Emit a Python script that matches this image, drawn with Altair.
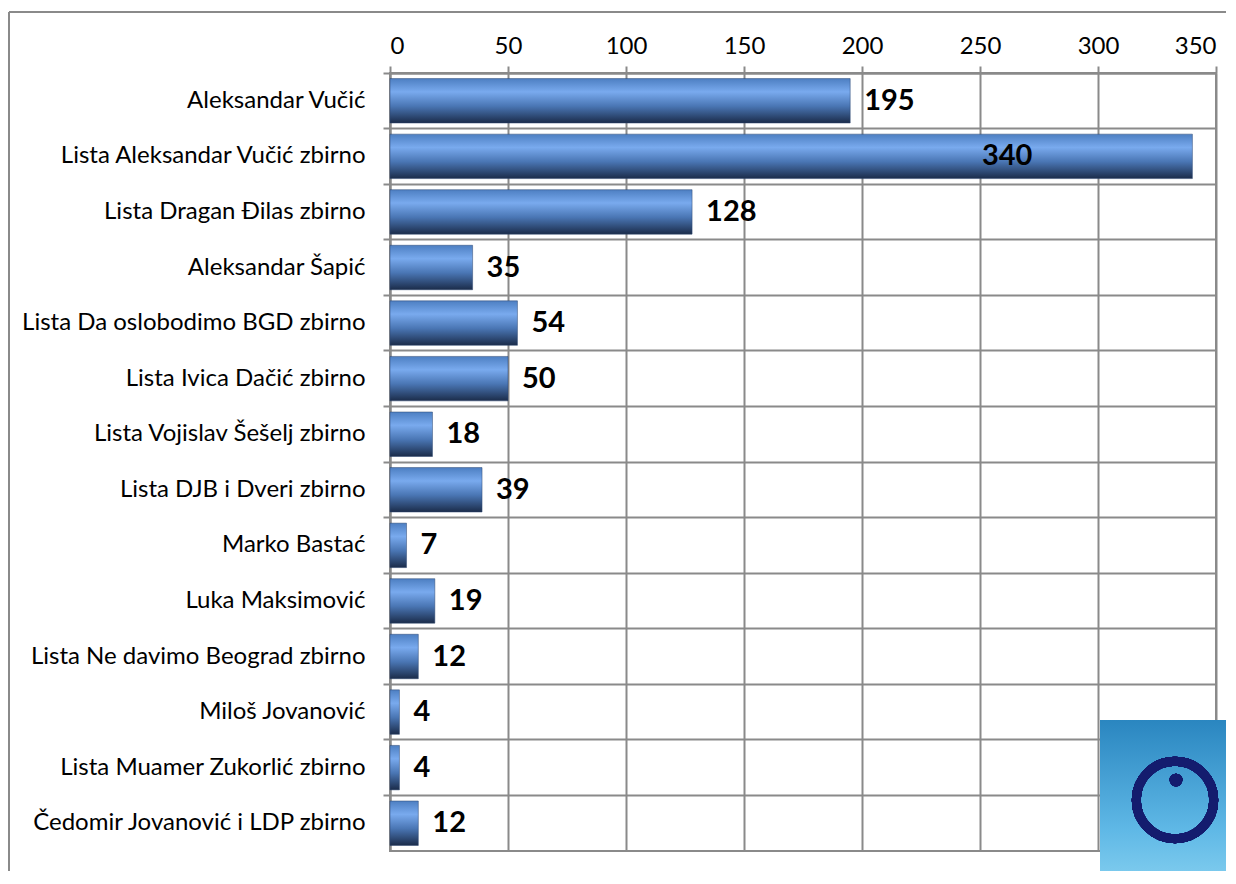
import altair as alt
import pandas as pd

names = [
    "Aleksandar Vučić",
    "Lista Aleksandar Vučić zbirno",
    "Lista Dragan Đilas zbirno",
    "Aleksandar Šapić",
    "Lista Da oslobodimo BGD zbirno",
    "Lista Ivica Dačić zbirno",
    "Lista Vojislav Šešelj zbirno",
    "Lista DJB i Dveri zbirno",
    "Marko Bastać",
    "Luka Maksimović",
    "Lista Ne davimo Beograd zbirno",
    "Miloš Jovanović",
    "Lista Muamer Zukorlić zbirno",
    "Čedomir Jovanović i LDP zbirno",
]
values = [195, 340, 128, 35, 54, 50, 18, 39, 7, 19, 12, 4, 4, 12]
x_ticks = [0, 50, 100, 150, 200, 250, 300, 350]

df = pd.DataFrame({"name": names, "value": values})

GRID = "#8a8a8a"
FONT = "Lato"

bar_grad = alt.Gradient(
    gradient="linear",
    stops=[
        alt.GradientStop(color="#4d7fc2", offset=0),
        alt.GradientStop(color="#79aaee", offset=0.3),
        alt.GradientStop(color="#4a76b4", offset=0.62),
        alt.GradientStop(color="#1b2c4a", offset=1),
    ],
    x1=0, x2=0, y1=0, y2=1,
)

logo_grad = alt.Gradient(
    gradient="linear",
    stops=[
        alt.GradientStop(color="#2a86c0", offset=0),
        alt.GradientStop(color="#5fb8e6", offset=0.6),
        alt.GradientStop(color="#8fd6f2", offset=1),
    ],
    x1=0, x2=0, y1=0, y2=1,
)

x_enc = alt.X(
    "value:Q",
    scale=alt.Scale(domain=[0, 350]),
    axis=alt.Axis(
        orient="top", values=x_ticks, title=None, grid=True,
        gridColor=GRID, gridWidth=2, tickColor=GRID, tickWidth=2, tickSize=7,
        domainColor=GRID, domainWidth=2, labelFont=FONT, labelFontSize=24,
        labelColor="black", labelPadding=8,
    ),
)
y_enc = alt.Y(
    "name:N",
    sort=names,
    scale=alt.Scale(paddingInner=0, paddingOuter=0),
    axis=alt.Axis(
        title=None, grid=True, bandPosition=0,
        gridColor=GRID, gridWidth=2, tickColor=GRID, tickWidth=2, tickSize=7,
        domainColor=GRID, domainWidth=2, labelFont=FONT, labelFontSize=24,
        labelColor="black", labelPadding=18, labelLimit=400,
    ),
)

base = alt.Chart(df).encode(x=x_enc, y=y_enc)

bars = base.mark_bar(height=alt.RelativeBandSize(0.8), fill=bar_grad,
                     stroke="#2c4670", strokeWidth=0.5)

labels_out = base.transform_filter("datum.value <= 300").mark_text(
    align="left", dx=14, font=FONT, fontSize=29, fontWeight="bold", color="black"
).encode(text="value:Q")

labels_in = base.transform_filter("datum.value > 300").mark_text(
    align="right", dx=-160, font=FONT, fontSize=29, fontWeight="bold", color="black"
).encode(text="value:Q")

frame_top = alt.Chart(df).mark_rule(color=GRID, strokeWidth=2).encode(
    x=alt.value(-381), x2=alt.value(900), y=alt.value(-61)
)
frame_left = alt.Chart(df).mark_rule(color=GRID, strokeWidth=2).encode(
    x=alt.value(-381), y=alt.value(-61), y2=alt.value(840)
)

logo_bg = alt.Chart(df).mark_rect(fill=logo_grad).encode(
    x=alt.value(710), x2=alt.value(850), y=alt.value(647), y2=alt.value(830)
)
logo_ring = alt.Chart(df).mark_point(
    shape="circle", filled=False, stroke="#141c6e", strokeWidth=9, size=6000, opacity=1
).encode(x=alt.value(785), y=alt.value(727))
logo_dot = alt.Chart(df).mark_point(
    shape="circle", filled=True, fill="#141c6e", size=160, opacity=1
).encode(x=alt.value(786), y=alt.value(707))

chart = alt.layer(
    bars, labels_out, labels_in, frame_top, frame_left, logo_bg, logo_ring, logo_dot
).properties(
    width=826, height=778,
    padding={"left": 382, "top": 65, "right": 10, "bottom": 20},
    autosize=alt.AutoSizeParams(type="none"),
).configure_view(stroke=GRID, strokeWidth=2)

chart.save("out.html", embed_options={"renderer": "svg", "actions": False})
